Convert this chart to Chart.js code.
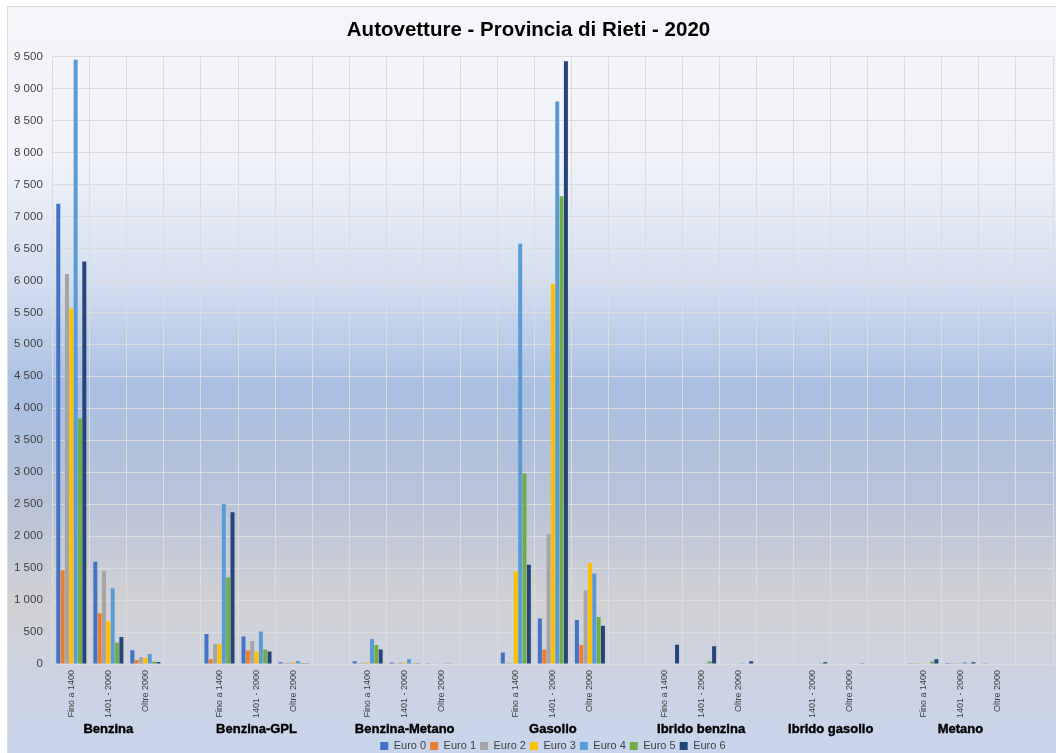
<!DOCTYPE html>
<html lang="it">
<head>
<meta charset="utf-8">
<title>Autovetture - Provincia di Rieti - 2020</title>
<script src="https://cdn.jsdelivr.net/npm/chart.js@4.4.1/dist/chart.umd.min.js"></script>
<style>
  html, body { margin: 0; padding: 0; background: #ffffff; }
  canvas { display: block; }
</style>
</head>
<body>
<canvas id="autoChart" width="1056" height="753"></canvas>
<script>
// Cilindrata per alimentazione; '' = spazio vuoto tra un gruppo e l'altro
const labels = [
  'Fino a 1400', '1401 - 2000', 'Oltre 2000', '',
  'Fino a 1400', '1401 - 2000', 'Oltre 2000', '',
  'Fino a 1400', '1401 - 2000', 'Oltre 2000', '',
  'Fino a 1400', '1401 - 2000', 'Oltre 2000', '',
  'Fino a 1400', '1401 - 2000', 'Oltre 2000', '',
  '1401 - 2000', 'Oltre 2000', '',
  'Fino a 1400', '1401 - 2000', 'Oltre 2000', ''
];

// Alimentazioni (etichette di secondo livello) e colonne che coprono
const groupNames = ['Benzina', 'Benzina-GPL', 'Benzina-Metano', 'Gasolio', 'Ibrido benzina', 'Ibrido gasolio', 'Metano'];
const groupFirst = [0, 4, 8, 12, 16, 20, 23];
const groupLast  = [2, 6, 10, 14, 18, 21, 25];

// Numero di autovetture per classe Euro
const euro0 = [7200, 1600, 214, null, 470, 430, 27, null, 42, 25, 10, null, 180, 710, 688, null, 0, 0, 0, null, 0, 0, null, 12, 16, 12, null];
const euro1 = [1465, 792, 62, null, 75, 211, 12, null, 10, 10, 8, null, 5, 227, 297, null, 0, 0, 0, null, 0, 0, null, 12, 12, 0, null];
const euro2 = [6100, 1449, 109, null, 313, 359, 20, null, 20, 20, 5, null, 3, 2030, 1151, null, 0, 0, 0, null, 0, 0, null, 12, 12, 0, null];
const euro3 = [5560, 672, 98, null, 313, 195, 27, null, 25, 25, 0, null, 1447, 5948, 1578, null, 0, 0, 0, null, 0, 0, null, 12, 12, 0, null];
const euro4 = [9450, 1183, 156, null, 2505, 508, 45, null, 390, 73, 10, null, 6573, 8797, 1417, null, 8, 5, 5, null, 0, 0, null, 0, 27, 0, null];
const euro5 = [3840, 333, 36, null, 1352, 227, 16, null, 297, 10, 10, null, 2978, 7317, 734, null, 8, 42, 0, null, 10, 0, null, 40, 10, 0, null];
const euro6 = [6297, 422, 30, null, 2375, 195, 5, null, 227, 10, 0, null, 1551, 9427, 599, null, 302, 276, 42, null, 27, 10, null, 75, 27, 0, null];

const seriesNames  = ['Euro 0', 'Euro 1', 'Euro 2', 'Euro 3', 'Euro 4', 'Euro 5', 'Euro 6'];
const seriesValues = [euro0, euro1, euro2, euro3, euro4, euro5, euro6];
const seriesColors = ['#4472c4', '#ed7d31', '#a5a5a5', '#ffc000', '#5b9bd5', '#70ad47', '#264478'];

const yMax = 9500;
const yStep = 500;

const FONT = '"Liberation Sans", Arial, sans-serif';

// sfondo sfumato del grafico con bordo sottile
const backgroundPlugin = {
  id: 'backgroundPlugin',
  beforeDraw(chart) {
    const ctx = chart.ctx;
    const w = chart.width, h = chart.height;
    ctx.save();
    ctx.fillStyle = '#ffffff';
    ctx.fillRect(0, 0, w, h);
    const g = ctx.createLinearGradient(0, 6, 0, h);
    g.addColorStop(0.00, '#f5f6fa');
    g.addColorStop(0.20, '#f1f3f9');
    g.addColorStop(0.36, '#d6e0f0');
    g.addColorStop(0.51, '#a9bfe2');
    g.addColorStop(0.66, '#b8c3d8');
    g.addColorStop(0.80, '#d1d1d4');
    g.addColorStop(0.90, '#ccd3e2');
    g.addColorStop(1.00, '#c8d5ec');
    ctx.fillStyle = g;
    ctx.fillRect(7, 6, w - 7, h - 6);
    ctx.strokeStyle = '#d9d9d9';
    ctx.lineWidth = 1;
    ctx.strokeRect(7.5, 6.5, w, h);
    ctx.restore();
  }
};

// legenda un po' più in basso, sotto le alimentazioni
const legendShiftPlugin = {
  id: 'legendShiftPlugin',
  afterLayout(chart) {
    if (chart.legend) {
      chart.legend.top += 8.5;
      chart.legend.bottom += 8.5;
    }
  }
};

// etichette delle alimentazioni sotto le cilindrate
const groupLabelPlugin = {
  id: 'groupLabelPlugin',
  afterDraw(chart) {
    const ctx = chart.ctx;
    const x = chart.scales.x;
    const y = chart.chartArea.bottom + 65;
    ctx.save();
    ctx.font = 'bold 13px ' + FONT;
    ctx.fillStyle = '#000000';
    ctx.strokeStyle = '#000000';
    ctx.lineWidth = 0.4;
    ctx.textAlign = 'center';
    ctx.textBaseline = 'middle';
    groupNames.forEach((name, i) => {
      const cx = (x.getPixelForValue(groupFirst[i]) + x.getPixelForValue(groupLast[i])) / 2;
      ctx.fillText(name, cx, y);
      ctx.strokeText(name, cx, y);
    });
    ctx.restore();
  }
};

const ctx = document.getElementById('autoChart').getContext('2d');
new Chart(ctx, {
  type: 'bar',
  data: {
    labels: labels,
    datasets: seriesNames.map((name, i) => ({
      label: name,
      data: seriesValues[i],
      backgroundColor: seriesColors[i],
      borderWidth: 0,
      barPercentage: 0.92,
      categoryPercentage: 0.82
    }))
  },
  options: {
    responsive: false,
    devicePixelRatio: 1,
    animation: false,
    layout: { padding: { left: 4, right: 3, top: 0, bottom: 0 } },
    plugins: {
      title: {
        display: true,
        text: 'Autovetture - Provincia di Rieti - 2020',
        color: '#000000',
        font: { family: FONT, size: 20.5, weight: 'bold' },
        padding: { top: 18, bottom: 14 }
      },
      legend: {
        position: 'bottom',
        fullSize: false,
        labels: {
          color: '#404040',
          font: { family: FONT, size: 11 },
          boxWidth: 8,
          boxHeight: 8,
          padding: 4
        }
      },
      tooltip: { enabled: false }
    },
    scales: {
      x: {
        grid: { color: '#dcdcdc', lineWidth: 1, drawTicks: false, offset: true },
        border: { color: '#dcdcdc' },
        ticks: {
          autoSkip: false,
          maxRotation: 90,
          minRotation: 90,
          padding: 6,
          color: '#404040',
          font: { family: FONT, size: 9 }
        },
        afterFit(scale) { scale.height = 64; }
      },
      y: {
        min: 0,
        max: yMax,
        grid: { color: '#dcdcdc', lineWidth: 1, drawTicks: false },
        border: { display: false },
        ticks: {
          stepSize: yStep,
          padding: 10,
          color: '#404040',
          font: { family: FONT, size: 11.5 },
          callback: v => String(v).replace(/\B(?=(\d{3})+(?!\d))/g, ' ')
        }
      }
    }
  },
  plugins: [backgroundPlugin, legendShiftPlugin, groupLabelPlugin]
});
</script>
</body>
</html>
